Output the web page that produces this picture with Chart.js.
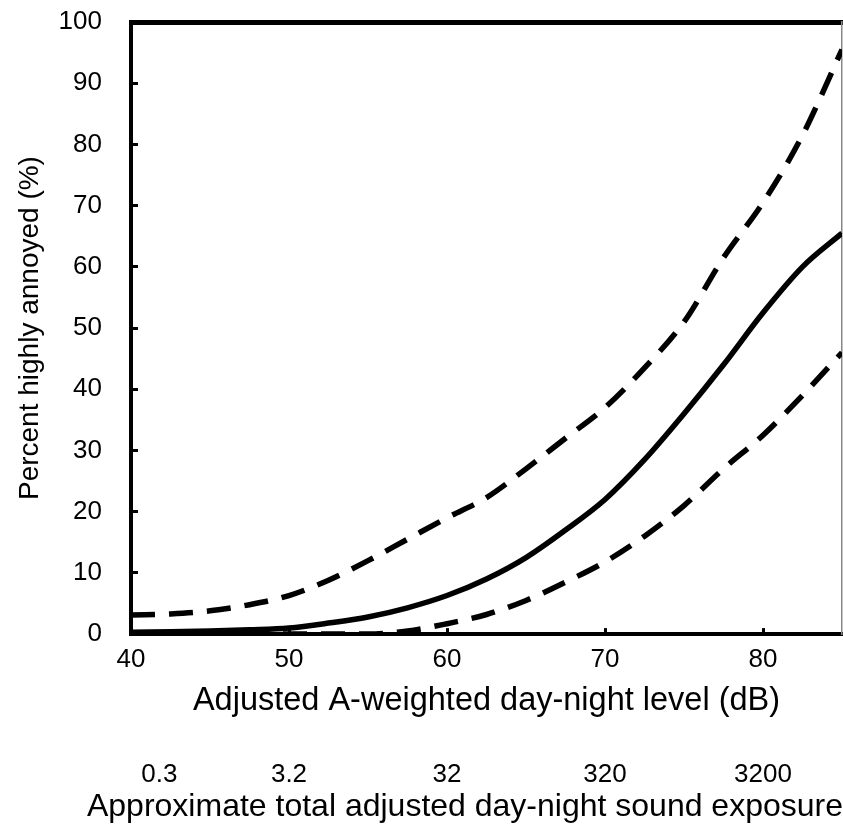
<!DOCTYPE html>
<html>
<head>
<meta charset="utf-8">
<script src="https://cdn.jsdelivr.net/npm/chart.js@4"></script>
<style>
html, body { margin: 0; padding: 0; background: #fff; }
canvas { display: block; }
</style>
</head>
<body>
<canvas id="chart" width="843" height="828"></canvas>
<script>
// day-night level (dB) and percent highly annoyed
var levels = [40, 42.5, 45, 47.5, 50, 52.5, 55, 57.5, 60, 62.5, 65, 67.5, 70, 72.5, 75, 77.5, 80, 82.5, 85];
var middle = [0.3, 0.4, 0.5, 0.7, 1.0, 1.8, 2.8, 4.3, 6.3, 9.0, 12.5, 17, 22, 28.5, 36, 44, 52.5, 60, 65.5];
var upper = [3.1, 3.3, 3.8, 4.8, 6.3, 8.8, 12, 15.5, 19, 22.3, 27, 32, 37, 43.5, 51, 61.5, 70.5, 81.5, 95.5];
var lower = [0, 0, 0, 0, 0, 0, 0, 0.5, 1.7, 3.2, 5.5, 8.5, 11.8, 16, 21, 27, 32.5, 39, 46];

var levelTicks = [40, 50, 60, 70, 80];
var exposureTicks = [41.8, 50, 60, 70, 80];
var exposureLabels = ['0.3', '3.2', '32', '320', '3200'];
var percentTicks = [0, 10, 20, 30, 40, 50, 60, 70, 80, 90, 100];

Chart.defaults.font.family = '"Liberation Sans", Arial, sans-serif';
Chart.defaults.color = '#000';

function points(ys) {
    return levels.map(function (x, i) { return { x: x, y: ys[i] }; });
}

function line(label, ys, dash) {
    return {
        label: label,
        data: points(ys),
        borderColor: '#000',
        borderWidth: 5.5,
        borderDash: dash,
        borderCapStyle: 'butt',
        pointRadius: 0,
        fill: false,
        cubicInterpolationMode: 'monotone'
    };
}

function setTicks(values) {
    return function (scale) {
        scale.ticks = values.map(function (v) { return { value: v }; });
    };
}

// fixed box sizes so the plot area sits where the original has it
function fitHeight(h) {
    return function (s) { s.height = h; s.paddingLeft = 0; s.paddingRight = 0; };
}
function fitWidth(w) {
    return function (s) { s.width = w; s.paddingTop = 0; s.paddingBottom = 0; };
}

new Chart(document.getElementById('chart'), {
    type: 'line',
    data: {
        datasets: [
            line('Upper', upper, [24, 14]),
            line('Middle', middle, []),
            line('Lower', lower, [24, 14])
        ]
    },
    options: {
        responsive: false,
        animation: false,
        layout: { padding: 0 },
        plugins: {
            legend: { display: false },
            tooltip: { enabled: false },
            // the second axis title is wider than the plot, so it goes in the chart title box
            title: {
                display: true, position: 'bottom', align: 'end',
                text: 'Approximate total adjusted day-night sound exposure',
                color: '#000', font: { size: 32, weight: 'normal' },
                padding: { top: 0, bottom: 1.5 }
            }
        },
        scales: {
            x: {
                type: 'linear', position: 'bottom', weight: 0,
                min: 40, max: 85,
                afterBuildTicks: setTicks(levelTicks),
                afterFit: fitHeight(98),
                grid: { drawOnChartArea: false, drawTicks: true, tickLength: -6, lineWidth: 3, color: '#000' },
                border: { display: true, width: 4, color: '#000' },
                ticks: { font: { size: 26 }, padding: 16, maxRotation: 0 },
                title: { display: true, text: 'Adjusted A-weighted day-night level (dB)', font: { size: 32.5 }, padding: { top: 0, bottom: 12 } }
            },
            x2: {
                type: 'linear', position: 'bottom', weight: 1,
                min: 40, max: 85,
                afterBuildTicks: setTicks(exposureTicks),
                afterFit: fitHeight(56),
                grid: { display: false, drawTicks: false },
                border: { display: false },
                ticks: {
                    font: { size: 26 }, padding: 27, maxRotation: 0,
                    callback: function (v, i) { return exposureLabels[i]; }
                }
            },
            xTop: {
                type: 'linear', position: 'top',
                min: 40, max: 85,
                afterFit: fitHeight(22),
                grid: { display: false, drawTicks: false },
                ticks: { display: false },
                border: { display: true, width: 5, color: '#000' }
            },
            y: {
                type: 'linear', position: 'left',
                min: 0, max: 100,
                afterBuildTicks: setTicks(percentTicks),
                afterFit: fitWidth(131),
                grid: { drawOnChartArea: false, drawTicks: true, tickLength: -7, lineWidth: 3, color: '#000' },
                border: { display: true, width: 4, color: '#000' },
                ticks: { font: { size: 26 }, padding: 36 },
                title: { display: true, text: 'Percent highly annoyed (%)', font: { size: 28 }, padding: { top: 13, bottom: 0 } }
            },
            yRight: {
                type: 'linear', position: 'right',
                min: 0, max: 100,
                afterFit: fitWidth(1),
                grid: { display: false, drawTicks: false },
                ticks: { display: false },
                border: { display: true, width: 1.5, color: '#888' }
            }
        }
    }
});
</script>
</body>
</html>
